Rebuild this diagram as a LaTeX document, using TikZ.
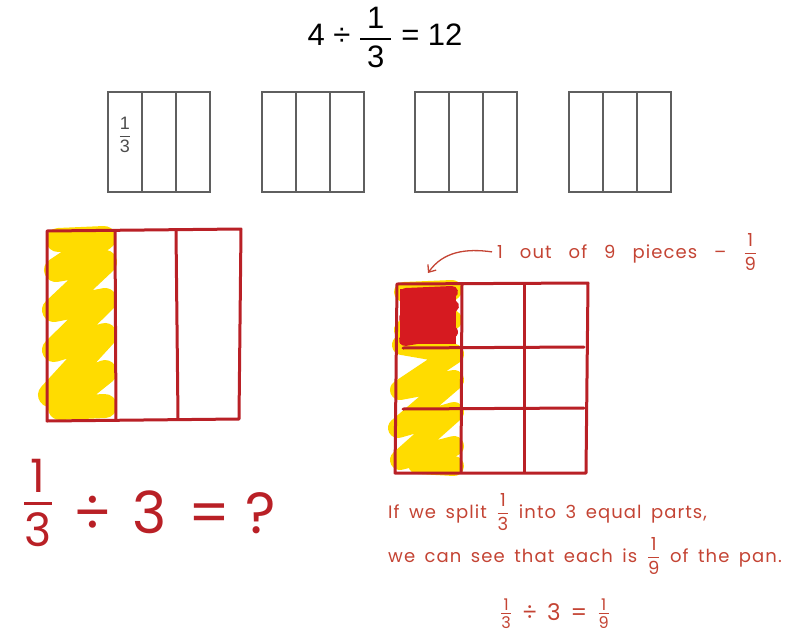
\documentclass[tikz,border=0pt]{standalone}
\usepackage{amsmath}
\usepackage{fontspec}
\setmainfont{Liberation Sans}
\newfontfamily\printfont{Liberation Sans}
\newfontfamily\handfont[LetterSpace=6]{Poppins}
\usetikzlibrary{arrows.meta,positioning}
\definecolor{panred}{RGB}{185,32,38}
\definecolor{inkred}{RGB}{196,68,52}
\definecolor{cellred}{RGB}{214,26,32}
\definecolor{scribble}{RGB}{255,220,0}
\definecolor{boxgray}{RGB}{95,95,95}
\newcommand{\inkfrac}[3][1pt]{\ensuremath{\genfrac{}{}{#1}{0}{\text{#2}}{\text{#3}}}}
\newcommand{\smallfrac}[2]{\ensuremath{\genfrac{}{}{0.9pt}{1}{\text{#1}}{\text{#2}}}}
\newcommand{\inkgap}[1]{\spaceskip=#1\relax}
\begin{document}
\begin{tikzpicture}[x=1pt,y=-1pt,
        third/.style={draw=boxgray, line width=1.6pt, minimum width=34pt, minimum height=100pt, inner sep=0pt, outer sep=0pt},
        panline/.style={draw=panred, line width=3pt, line cap=round, line join=round},
        yellowscrib/.style={draw=scribble, line width=24pt, line cap=round, line join=round},
        redscrib/.style={draw=cellred, line width=12pt, line cap=round, line join=round},
        ink/.style={text=inkred, font=\handfont\fontsize{18}{22}\selectfont\inkgap{9.5pt}, inner sep=0pt},
        bigink/.style={text=panred, font=\handfont\fontsize{58}{64}\selectfont, inner sep=0pt},
        arr/.style={draw=inkred, line width=1.3pt, -{Straight Barb[length=6pt,width=10pt]}}
    ]
        \useasboundingbox (0,0) rectangle (796,635);

        \node[font=\printfont\fontsize{31}{36}\selectfont, anchor=base] (topeq) at (385,45)
            {4 ÷ \inkfrac[2pt]{\hspace{7pt}1\hspace{7pt}}{3} = 12};

        % four wholes cut in thirds
        \node[third] (g1a) at (125,142) {};
        \node[third, right=0pt of g1a] (g1b) {};
        \node[third, right=0pt of g1b] (g1c) {};
        \node[third] (g2a) at (279,142) {};
        \node[third, right=0pt of g2a] (g2b) {};
        \node[third, right=0pt of g2b] (g2c) {};
        \node[third] (g3a) at (432,142) {};
        \node[third, right=0pt of g3a] (g3b) {};
        \node[third, right=0pt of g3b] (g3c) {};
        \node[third] (g4a) at (586,142) {};
        \node[third, right=0pt of g4a] (g4b) {};
        \node[third, right=0pt of g4b] (g4c) {};
        \node[font=\printfont\fontsize{18}{20}\selectfont, text=black!70, inner sep=0pt] (gcap) at (125,135) {\inkfrac[1pt]{1}{3}};

        % left pan
        \draw[yellowscrib] (58,240) -- (104,238) -- (56,270) -- (105,262) -- (54,310) -- (105,300) -- (54,350) -- (105,335) -- (50,395) -- (105,372) -- (60,408) -- (105,406);
        \draw[panline] (47,231) -- (241,229) -- (239,419) -- (47,421) -- cycle;
        \draw[panline] (115,232) -- (116,420);
        \draw[panline] (176,231) -- (178,419);

        % right pan
        \draw[yellowscrib, line width=20pt] (404,292) -- (452,290) -- (404,330) -- (452,320) -- (402,345) -- (454,354) -- (400,390) -- (454,380) -- (398,428) -- (454,412) -- (400,460) -- (454,446) -- (418,464) -- (454,466);
        \fill[cellred] (400,289) rectangle (456,344);
        \draw[redscrib] (406,294) -- (452,292) -- (405,318) -- (453,306) -- (405,340) -- (452,332);
        \draw[panline] (397,284) -- (588,283) -- (586,473) -- (395,473) -- cycle;
        \draw[panline] (462,285) -- (461,472);
        \draw[panline] (524,284) -- (524,472);
        \draw[panline] (403,348) -- (584,347);
        \draw[panline] (403,409) -- (584,408);

        \node[ink, anchor=base west, font=\handfont\fontsize{18}{22}\selectfont\inkgap{17pt}] (piecelbl) at (497,258) {1 out of 9 pieces – \inkfrac{1}{9}};
        \coordinate (redcell) at (428,273);
        \draw[arr] ([xshift=-5pt]piecelbl.west) to[out=172,in=55] (redcell);

        % question and answer
        \node[bigink, font=\handfont\fontsize{46}{52}\selectfont] (lfrac) at (38,503) {\inkfrac[2.5pt]{1}{3}};
        \node[bigink, anchor=base] (ldiv) at (93,533) {÷};
        \node[bigink, anchor=base] (lthree) at (150,533) {3};
        \node[bigink, anchor=base] (leq) at (209,533) {=};
        \node[bigink, anchor=base] (lask) at (261,533) {?};

        \node[ink, anchor=base west] (split) at (388,518) {If we split \inkfrac{1}{3} into 3 equal parts,};
        \node[ink, anchor=base west] (each) at (388,562) {we can see that each is \inkfrac{1}{9} of the pan.};
        \node[ink, anchor=base, font=\handfont\fontsize{23}{26}\selectfont\inkgap{10pt}] (answer) at (555,620) {\smallfrac{1}{3} ÷ 3 = \smallfrac{1}{9}};
\end{tikzpicture}
\end{document}
